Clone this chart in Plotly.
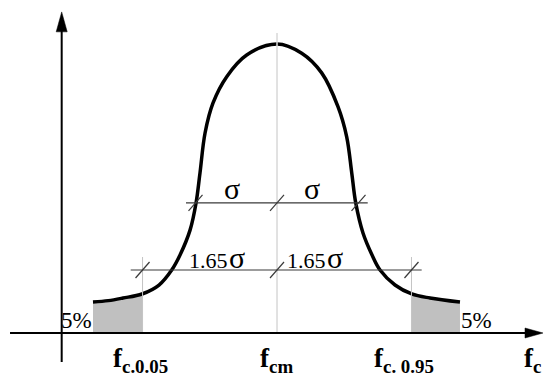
import plotly.graph_objects as go

# Standardised abscissa (units of sigma, mean at 0) and relative density (peak = 1)
curve_z = [-2.258, -2.07, -1.89, -1.656, -1.448, -1.292, -1.19, -1.067, -0.994, -0.945,
           -0.883, -0.785, -0.617, -0.372, 0.0, 0.303, 0.548, 0.748, 0.855, 0.917,
           0.966, 1.055, 1.166, 1.264, 1.448, 1.653, 1.877, 2.245]
curve_f = [0.107, 0.112, 0.121, 0.135, 0.166, 0.218, 0.270, 0.356, 0.449, 0.554,
           0.692, 0.796, 0.887, 0.962, 1.0, 0.968, 0.900, 0.783, 0.679, 0.554,
           0.450, 0.346, 0.270, 0.218, 0.166, 0.135, 0.121, 0.107]

K_FRACTILE = 1.65          # characteristic fractile factor
SIGMA = 1.0
SIGMA_LEVEL = 0.450        # height of the sigma dimension line
FRACTILE_LEVEL = 0.218     # height of the 1.65 sigma dimension line

tick_labels = ["f<sub>c.0.05</sub>", "f<sub>cm</sub>", "f<sub>c. 0.95</sub>", "f<sub>c</sub>"]
tick_z = [-1.669, -0.012, 1.558, 3.13]
tail_label = "5%"

# view window
XR = [-3.399, 3.276]
YR = [-0.1557, 1.1522]
PX_X = (XR[1] - XR[0]) / 544.0
PX_Y = (YR[1] - YR[0]) / 378.0

BLACK = "#000000"
DIM = "#3a3a3a"
FONT = "Liberation Serif"

fig = go.Figure()

# shaded 5 % tails
left_z = [z for z in curve_z if z <= -K_FRACTILE]
left_f = [f for z, f in zip(curve_z, curve_f) if z <= -K_FRACTILE]
right_z = [z for z in curve_z if z >= K_FRACTILE]
right_f = [f for z, f in zip(curve_z, curve_f) if z >= K_FRACTILE]
for zs, fs in ((left_z, left_f), (right_z, right_f)):
    fig.add_trace(go.Scatter(x=zs, y=fs, mode="lines", fill="tozeroy",
                             fillcolor="#c0c0c0", line=dict(width=0, shape="spline"),
                             hoverinfo="skip", showlegend=False))

shapes = []
# centre line at the mean
shapes.append(dict(type="line", x0=0, x1=0, y0=0, y1=1.038,
                   line=dict(color="#d8d8d8", width=1.5)))
# fractile markers
for s in (-K_FRACTILE, K_FRACTILE):
    shapes.append(dict(type="line", x0=s, x1=s, y0=0, y1=0.263,
                       line=dict(color="#c4c4c4", width=1)))

# dimension lines
shapes.append(dict(type="line", x0=-1.117, x1=1.113, y0=SIGMA_LEVEL, y1=SIGMA_LEVEL,
                   line=dict(color=DIM, width=1.2)))
shapes.append(dict(type="line", x0=-1.795, x1=1.775, y0=FRACTILE_LEVEL, y1=FRACTILE_LEVEL,
                   line=dict(color=DIM, width=1.2)))
# slash ticks on the dimension lines
dx, dy = 7 * PX_X, 8 * PX_Y
for level, pts in ((SIGMA_LEVEL, (-SIGMA, 0, SIGMA)),
                   (FRACTILE_LEVEL, (-K_FRACTILE, 0, K_FRACTILE))):
    for p in pts:
        shapes.append(dict(type="line", x0=p - dx, x1=p + dx, y0=level - dy, y1=level + dy,
                           line=dict(color=DIM, width=1.2)))

# axes with arrowheads
AX_X = -2.642
shapes.append(dict(type="line", x0=AX_X, x1=AX_X, y0=-0.100, y1=1.05,
                   line=dict(color=BLACK, width=2)))
shapes.append(dict(type="line", x0=-3.276, x1=3.06, y0=0, y1=0,
                   line=dict(color=BLACK, width=2)))
hw = 5.5 * PX_X
shapes.append(dict(type="path",
                   path=f"M {AX_X - hw},1.042 L {AX_X + hw},1.042 L {AX_X},1.111 Z",
                   fillcolor=BLACK, line=dict(color=BLACK, width=0.5)))
hh = 5 * PX_Y
shapes.append(dict(type="path",
                   path=f"M 3.043,{-hh} L 3.043,{hh} L 3.264,0 Z",
                   fillcolor=BLACK, line=dict(color=BLACK, width=0.5)))

# density curve
fig.add_trace(go.Scatter(x=curve_z, y=curve_f, mode="lines",
                         line=dict(color=BLACK, width=3.5, shape="spline"),
                         hoverinfo="skip", showlegend=False))

ann = []
def text(x, y, s, size, **kw):
    ann.append(dict(x=x, y=y, text=s, showarrow=False, xref="x", yref="y",
                    font=dict(family=FONT, size=size, color=BLACK), **kw))

SIG = "<span style='font-size:30px'>σ</span>"
text(-0.552, 0.500, "σ", 30)
text(0.429, 0.500, "σ", 30)
text(-0.736, 0.262, "1.65<span style='font-size:6px'> </span>" + SIG, 22)
text(0.466, 0.262, "1.65<span style='font-size:6px'> </span>" + SIG, 22)
text(-2.466, 0.045, tail_label, 23)
text(2.442, 0.042, tail_label, 23)
for z, lab in zip(tick_z, tick_labels):
    text(z, -0.093, f"<b>{lab}</b>", 27)

fig.update_layout(
    width=544, height=378, margin=dict(l=0, r=0, t=0, b=0),
    paper_bgcolor="white", plot_bgcolor="white",
    xaxis=dict(range=XR, visible=False, fixedrange=True),
    yaxis=dict(range=YR, visible=False, fixedrange=True),
    shapes=shapes, annotations=ann,
)

fig.write_html("out.html")
